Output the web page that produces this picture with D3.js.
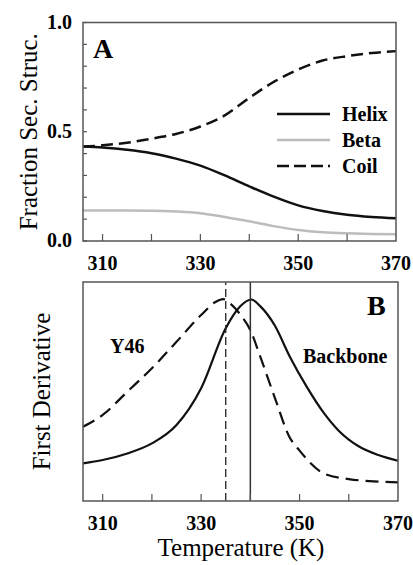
<!DOCTYPE html>
<html>
<head>
<meta charset="utf-8">
<script src="https://cdn.jsdelivr.net/npm/d3@7"></script>
</head>
<body style="margin:0">
<div id="chart"></div>
<script>
// panel A: fraction of secondary structure vs temperature
const tempA = [306, 310, 315, 320, 325, 330, 335, 340, 345, 350, 355, 360, 365, 370]
const helix = [0.432, 0.428, 0.418, 0.402, 0.377, 0.345, 0.30, 0.25, 0.203, 0.163, 0.137, 0.12, 0.110, 0.104]
const beta  = [0.140, 0.140, 0.140, 0.139, 0.135, 0.127, 0.11, 0.09, 0.068, 0.05, 0.04, 0.035, 0.032, 0.031]
const coil  = [0.432, 0.438, 0.450, 0.468, 0.490, 0.524, 0.575, 0.655, 0.728, 0.785, 0.826, 0.846, 0.86, 0.869]

// panel B: first derivative curves
const tempBackbone = [306, 310, 315, 320, 325, 330, 335, 338, 340.2, 342, 345, 348, 351.5, 355, 358, 362, 366, 370]
const backbone     = [0.172, 0.187, 0.217, 0.263, 0.347, 0.515, 0.789, 0.89, 0.92, 0.89, 0.80, 0.66, 0.52, 0.40, 0.32, 0.25, 0.21, 0.184]
const tempY46 = [306, 310, 315, 320, 325, 330, 333, 334.5, 336, 338, 340, 342, 345, 348, 350, 355, 360, 365, 370]
const y46     = [0.339, 0.393, 0.499, 0.606, 0.727, 0.849, 0.91, 0.922, 0.90, 0.85, 0.78, 0.66, 0.47, 0.29, 0.23, 0.125, 0.10, 0.09, 0.085]
const midpoints = [335, 340]

const xTicks = [310, 320, 330, 340, 350, 360]
const xLabels = [310, 330, 350, 370]
const yTicksA = d3.range(0, 1.01, 0.1)
const yLabelsA = [0, 0.5, 1.0]
const legendNames = ['Helix', 'Beta', 'Coil']

const serif = "'Liberation Serif'"

const svg = d3.select('#chart').append('svg')
  .attr('width', 413)
  .attr('height', 565)
  .style('display', 'block')

const frameColor = '#555'

function label(g, x, y, txt, size, bold, anchor) {
  return g.append('text')
    .attr('x', x).attr('y', y)
    .attr('text-anchor', anchor || 'start')
    .style('font-family', serif)
    .style('font-size', size + 'px')
    .style('font-weight', bold ? 'bold' : 'normal')
    .text(txt)
}

// ---------- panel A ----------
let xA = d3.scaleLinear().domain([306, 370]).range([83, 396])
let yA = d3.scaleLinear().domain([0, 1]).range([241, 22.5])

let gA = svg.append('g')

let lineA = d3.line()
  .x(function(d) { return xA(d[0]) })
  .y(function(d) { return yA(d[1]) })
  .curve(d3.curveMonotoneX)

gA.append('path')
  .attr('d', lineA(d3.zip(tempA, beta)))
  .attr('fill', 'none')
  .attr('stroke', '#bcbcbc')
  .attr('stroke-width', 2.5)
gA.append('path')
  .attr('d', lineA(d3.zip(tempA, helix)))
  .attr('fill', 'none')
  .attr('stroke', '#111')
  .attr('stroke-width', 2.5)
gA.append('path')
  .attr('d', lineA(d3.zip(tempA, coil)))
  .attr('fill', 'none')
  .attr('stroke', '#111')
  .attr('stroke-width', 2.5)
  .attr('stroke-dasharray', '12,6')

// ticks
for (let i = 0; i < xTicks.length; i++) {
  gA.append('line')
    .attr('x1', xA(xTicks[i])).attr('x2', xA(xTicks[i]))
    .attr('y1', yA(0)).attr('y2', yA(0) - 7)
    .attr('stroke', frameColor).attr('stroke-width', 1.2)
}
for (let i = 0; i < yTicksA.length; i++) {
  gA.append('line')
    .attr('x1', xA(306)).attr('x2', xA(306) + 4)
    .attr('y1', yA(yTicksA[i])).attr('y2', yA(yTicksA[i]))
    .attr('stroke', frameColor).attr('stroke-width', 1.2)
}
gA.append('rect')
  .attr('x', xA(306)).attr('y', yA(1))
  .attr('width', xA(370) - xA(306)).attr('height', yA(0) - yA(1))
  .attr('fill', 'none').attr('stroke', frameColor).attr('stroke-width', 1.5)

xLabels.forEach(function(d) { label(gA, xA(d), 270, d, 20, true, 'middle') })
yLabelsA.forEach(function(d) { label(gA, 72, yA(d) + 6, d3.format('.1f')(d), 20, true, 'end') })

label(gA, 0, 0, 'Fraction Sec. Struc.', 25, false, 'middle')
  .attr('transform', 'translate(37,' + ((yA(0) + yA(1)) / 2) + ') rotate(-90)')

label(gA, 93, 58, 'A', 28, true)

// legend
let legStroke = ['#111', '#bcbcbc', '#111']
let legDash = [null, null, '12,5']
let legY = [114, 140, 166]
for (let i = 0; i < legendNames.length; i++) {
  gA.append('line')
    .attr('x1', 277).attr('x2', 330)
    .attr('y1', legY[i]).attr('y2', legY[i])
    .attr('stroke', legStroke[i])
    .attr('stroke-width', 2.5)
    .attr('stroke-dasharray', legDash[i])
  label(gA, 342, legY[i] + 7, legendNames[i], 20, true)
}

// ---------- panel B ----------
let xB = d3.scaleLinear().domain([306, 370]).range([83, 398])
let yB = d3.scaleLinear().domain([0, 1]).range([501, 282])

let gB = svg.append('g')

let lineB = d3.line()
  .x(function(d) { return xB(d[0]) })
  .y(function(d) { return yB(d[1]) })
  .curve(d3.curveMonotoneX)

gB.append('path')
  .attr('d', lineB(d3.zip(tempBackbone, backbone)))
  .attr('fill', 'none')
  .attr('stroke', '#111')
  .attr('stroke-width', 2.2)
gB.append('path')
  .attr('d', lineB(d3.zip(tempY46, y46)))
  .attr('fill', 'none')
  .attr('stroke', '#111')
  .attr('stroke-width', 2.2)
  .attr('stroke-dasharray', '13,7')

// transition midpoints
gB.append('line')
  .attr('x1', xB(midpoints[0])).attr('x2', xB(midpoints[0]))
  .attr('y1', yB(0)).attr('y2', yB(1))
  .attr('stroke', '#222').attr('stroke-width', 1.3)
  .attr('stroke-dasharray', '8,4')
gB.append('line')
  .attr('x1', xB(midpoints[1])).attr('x2', xB(midpoints[1]))
  .attr('y1', yB(0)).attr('y2', yB(1))
  .attr('stroke', '#333').attr('stroke-width', 1.5)

for (let i = 0; i < xTicks.length; i++) {
  gB.append('line')
    .attr('x1', xB(xTicks[i])).attr('x2', xB(xTicks[i]))
    .attr('y1', yB(0)).attr('y2', yB(0) - 7)
    .attr('stroke', frameColor).attr('stroke-width', 1.2)
}
gB.append('rect')
  .attr('x', xB(306)).attr('y', yB(1))
  .attr('width', xB(370) - xB(306)).attr('height', yB(0) - yB(1))
  .attr('fill', 'none').attr('stroke', frameColor).attr('stroke-width', 1.5)

xLabels.forEach(function(d) { label(gB, xB(d), 530, d, 20, true, 'middle') })

label(gB, 241, 556, 'Temperature (K)', 25, false, 'middle')
label(gB, 0, 0, 'First Derivative', 25, false, 'middle')
  .attr('transform', 'translate(50,' + ((yB(0) + yB(1)) / 2) + ') rotate(-90)')

label(gB, 367, 315, 'B', 28, true)
label(gB, 110, 353, 'Y46', 20, true)
label(gB, 303, 363, 'Backbone', 20, true)
</script>
</body>
</html>
